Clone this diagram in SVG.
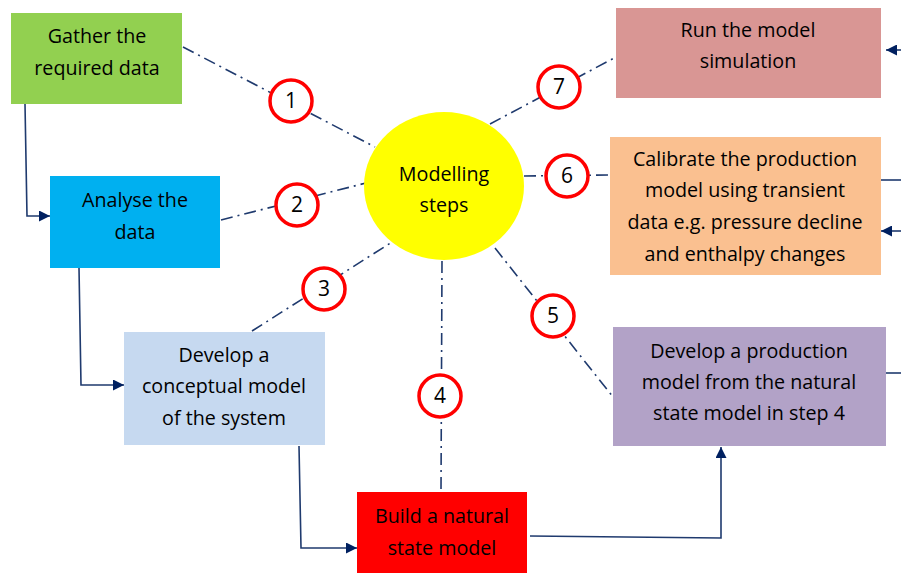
<svg xmlns="http://www.w3.org/2000/svg" width="901" height="573" viewBox="0 0 901 573">
<style>
text{font-family:"Open Sans","Liberation Sans",sans-serif;font-size:19.7px;fill:#000;text-anchor:middle}
.dd{fill:none;stroke:#1F3A6E;stroke-width:1.6;stroke-dasharray:12 5 2 5}
.sl{fill:none;stroke:#1F3A6E;stroke-width:1.6}
.num{fill:#fff;stroke:#FF0000;stroke-width:3.5}
.nt{font-size:21px}
</style>
<defs>
<marker id="ah" viewBox="0 0 10 10" refX="10" refY="5" markerWidth="11" markerHeight="11" markerUnits="userSpaceOnUse" orient="auto">
<path d="M0,0 L10,5 L0,10 z" fill="#002060"/>
</marker>
</defs>
<rect width="901" height="573" fill="#fff"/>
<g id="connectors">
<line class="dd" x1="183" y1="47" x2="375" y2="147"/>
<line class="dd" x1="221" y1="220" x2="366" y2="183"/>
<line class="dd" x1="252" y1="331" x2="392" y2="242"/>
<line class="dd" x1="442" y1="261" x2="441" y2="492"/>
<line class="dd" x1="495" y1="248" x2="613" y2="397"/>
<line class="dd" x1="524" y1="176" x2="610" y2="175"/>
<line class="dd" x1="490" y1="124" x2="616" y2="57"/>
<path class="sl" d="M25,104 L27,216 L50,216" marker-end="url(#ah)"/>
<path class="sl" d="M79,268 L81,385 L124,385" marker-end="url(#ah)"/>
<path class="sl" d="M299,446 L301,548 L357,548" marker-end="url(#ah)"/>
<path class="sl" d="M530,536 L721,538 L721,447" marker-end="url(#ah)"/>
<path class="sl" d="M901,50 L886,50" marker-end="url(#ah)"/>
<path class="sl" d="M881,180 L901,180"/>
<path class="sl" d="M901,231 L881,231" marker-end="url(#ah)"/>
<path class="sl" d="M886,373 L901,373"/>
</g>
<g id="gather">
<rect x="11" y="13" width="171" height="91" fill="#92D050"/>
<text x="97" y="43">Gather the</text>
<text x="97" y="75">required data</text>
</g>
<g id="analyse">
<rect x="50" y="176" width="170" height="92" fill="#00B0F0"/>
<text x="135" y="207">Analyse the</text>
<text x="135" y="239">data</text>
</g>
<g id="conceptual">
<rect x="124" y="332" width="201" height="113" fill="#C6D9F0"/>
<text x="224" y="362">Develop a</text>
<text x="224" y="393">conceptual model</text>
<text x="224" y="425">of the system</text>
</g>
<g id="natural">
<rect x="357" y="492" width="170" height="81" fill="#FF0000"/>
<text x="442" y="523">Build a natural</text>
<text x="442" y="555">state model</text>
</g>
<g id="production">
<rect x="613" y="327" width="273" height="119" fill="#B2A2C7"/>
<text x="749" y="358">Develop a production</text>
<text x="749" y="389">model from the natural</text>
<text x="749" y="420">state model in step 4</text>
</g>
<g id="calibrate">
<rect x="610" y="137" width="271" height="138" fill="#FAC090"/>
<text x="745" y="166">Calibrate the production</text>
<text x="745" y="197">model using transient</text>
<text x="745" y="229">data e.g. pressure decline</text>
<text x="745" y="261">and enthalpy changes</text>
</g>
<g id="run">
<rect x="616" y="8" width="265" height="90" fill="#D99694"/>
<text x="748" y="37">Run the model</text>
<text x="748" y="68">simulation</text>
</g>
<g id="modelling">
<ellipse cx="444" cy="186" rx="80" ry="74" fill="#FFFF00"/>
<text x="444" y="181">Modelling</text>
<text x="444" y="212">steps</text>
</g>
<g id="n1"><circle class="num" cx="291" cy="101" r="21"/><text class="nt" x="291" y="108">1</text></g>
<g id="n2"><circle class="num" cx="297" cy="205" r="21"/><text class="nt" x="297" y="212">2</text></g>
<g id="n3"><circle class="num" cx="324" cy="289" r="21"/><text class="nt" x="324" y="296">3</text></g>
<g id="n4"><circle class="num" cx="440" cy="396" r="21"/><text class="nt" x="440" y="403">4</text></g>
<g id="n5"><circle class="num" cx="553" cy="316" r="21"/><text class="nt" x="553" y="323">5</text></g>
<g id="n6"><circle class="num" cx="567" cy="176" r="21"/><text class="nt" x="567" y="183">6</text></g>
<g id="n7"><circle class="num" cx="559" cy="87" r="21"/><text class="nt" x="559" y="94">7</text></g>
</svg>
